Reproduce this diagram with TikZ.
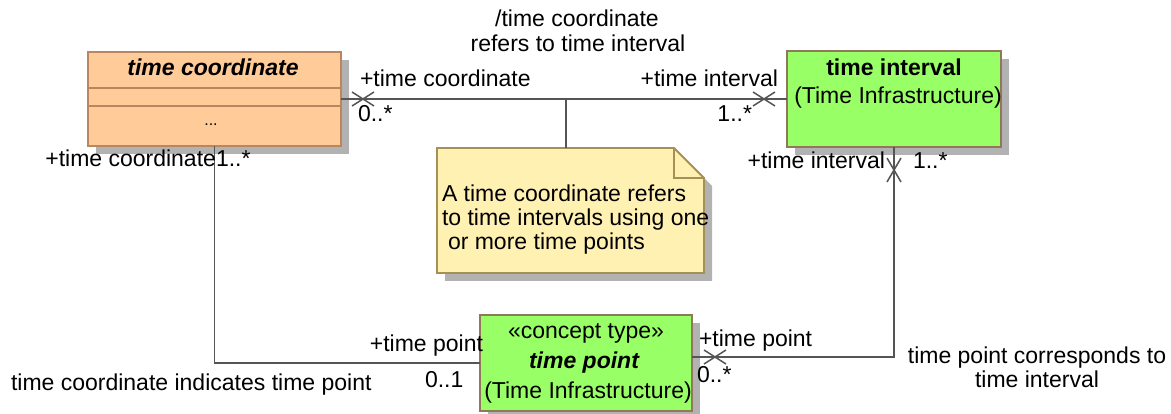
\documentclass[tikz,border=0pt]{standalone}
\usepackage{fontspec}
\setmainfont{Liberation Sans}
\usetikzlibrary{calc,shadows}
\definecolor{peach}{RGB}{255,204,153}
\definecolor{peachborder}{RGB}{185,135,95}
\definecolor{greenfill}{RGB}{153,255,102}
\definecolor{greenborder}{RGB}{145,120,90}
\definecolor{notefill}{RGB}{255,241,178}
\definecolor{noteborder}{RGB}{165,145,85}
\definecolor{shadowc}{RGB}{178,178,178}
\definecolor{linec}{RGB}{85,85,85}
\begin{document}
\begin{tikzpicture}[x=1pt,y=-1pt,
  every node/.style={font=\fontsize{23}{27}\selectfont, inner sep=0pt, outer sep=0pt},
  lbl/.style={anchor=base},
  lblw/.style={anchor=base west},
  lble/.style={anchor=base east},
  umlbox/.style={draw, line width=1.8pt, rectangle,
     drop shadow={shadow xshift=8pt, shadow yshift=-8pt, fill=shadowc, opacity=1}},
  conn/.style={draw=linec, line width=1.5pt},
  xmark/.style={draw=linec, line width=1.5pt},
]
\useasboundingbox (0,0) rectangle (1171,414);

% ---- classes ----
\node[umlbox, fill=peach, draw=peachborder, minimum width=253pt, minimum height=94pt] (tc) at (214.5,99) {};
\draw[peachborder, line width=1.8pt] (tc.west |- 0,88) -- (tc.east |- 0,88);
\draw[peachborder, line width=1.8pt] (tc.west |- 0,106) -- (tc.east |- 0,106);
\node[lbl, font=\fontsize{23}{27}\selectfont\bfseries\itshape] (tctitle) at (213,76) {time coordinate};
\node[lbl, font=\fontsize{16}{18}\selectfont] (tcdots) at (211,126) {...};

\node[umlbox, fill=greenfill, draw=greenborder, minimum width=214pt, minimum height=96pt] (ti) at (894,99) {};
\node[lbl, font=\fontsize{23}{27}\selectfont\bfseries] (tititle) at (894,76) {time interval};
\node[lbl] (tipkg) at (898,104) {(Time Infrastructure)};

\node[umlbox, fill=greenfill, draw=greenborder, minimum width=212pt, minimum height=96pt] (tp) at (586,363) {};
\node[lbl] (tpst) at (586,338) {«concept type»};
\node[lbl, font=\fontsize{23}{27}\selectfont\bfseries\itshape] (tptitle) at (584,368) {time point};
\node[lbl] (tppkg) at (588,398) {(Time Infrastructure)};

% ---- note ----
\node[minimum width=267pt, minimum height=125pt] (note) at (570.5,210.5) {};
\fill[shadowc] ($(note.north west)+(8,8)$) -- ($(note.north east)+(-22,8)$) -- ($(note.north east)+(8,38)$)
   -- ($(note.south east)+(8,8)$) -- ($(note.south west)+(8,8)$) -- cycle;
\filldraw[fill=notefill, draw=noteborder, line width=1.8pt] (note.north west) -- ($(note.north east)+(-30,0)$)
   -- ($(note.north east)+(0,30)$) -- (note.south east) -- (note.south west) -- cycle;
\draw[noteborder, line width=1.5pt] ($(note.north east)+(-30,0)$) -- ($(note.north east)+(-30,30)$) -- ($(note.north east)+(0,30)$);
\node[lblw] (nt1) at (442,202) {A time coordinate refers};
\node[lblw] (nt2) at (442,226) {to time intervals using one};
\node[lblw] (nt3) at (448,250) {or more time points};

% ---- association: time coordinate -- time interval ----
\draw[conn] (tc.east) -- (ti.west);
\coordinate (nc) at (566,99);
\draw[conn] (nc) -- (note.north -| nc);
\coordinate (x1) at (363,99);
\coordinate (x2) at (764,99);
\draw[xmark] ($(x1)+(-11,-7)$) -- ($(x1)+(11,7)$);
\draw[xmark] ($(x1)+(-11,7)$) -- ($(x1)+(11,-7)$);
\draw[xmark] ($(x2)+(-11,-7)$) -- ($(x2)+(11,7)$);
\draw[xmark] ($(x2)+(-11,7)$) -- ($(x2)+(11,-7)$);
\node[lbl] (a1name1) at (577,27) {/time coordinate};
\node[lbl] (a1name2) at (578,52) {refers to time interval};
\node[lblw] (a1r1) at (360,87) {+time coordinate};
\node[lblw] (a1m1) at (358,122) {0..*};
\node[lble] (a1r2) at (778,87) {+time interval};
\node[lble] (a1m2) at (752,122) {1..*};

% ---- association: time coordinate -- time point ----
\draw[conn] (tc.south) |- (tp.west);
\node[lble] (a2r1) at (216,167) {+time coordinate};
\node[lblw] (a2m1) at (216,167) {1..*};
\node[lble] (a2r2) at (483,352) {+time point};
\node[lblw] (a2m2) at (425,387) {0..1};
\node[lblw] (a2name) at (11,390) {time coordinate indicates time point};

% ---- association: time point -- time interval ----
\draw[conn] ([yshift=6pt]tp.east) -| (ti.south);
\coordinate (x3) at (894,170);
\coordinate (x4) at (715,357);
\draw[xmark] ($(x3)+(-7,-12)$) -- ($(x3)+(7,12)$);
\draw[xmark] ($(x3)+(7,-12)$) -- ($(x3)+(-7,12)$);
\draw[xmark] ($(x4)+(-11,-7)$) -- ($(x4)+(11,7)$);
\draw[xmark] ($(x4)+(-11,7)$) -- ($(x4)+(11,-7)$);
\node[lble] (a3r1) at (885,169) {+time interval};
\node[lblw] (a3m1) at (913,169) {1..*};
\node[lblw] (a3r2) at (699,347) {+time point};
\node[lblw] (a3m2) at (697,382) {0..*};
\node[lbl] (a3name1) at (1037,363) {time point corresponds to};
\node[lbl] (a3name2) at (1037,387) {time interval};
\end{tikzpicture}
\end{document}
